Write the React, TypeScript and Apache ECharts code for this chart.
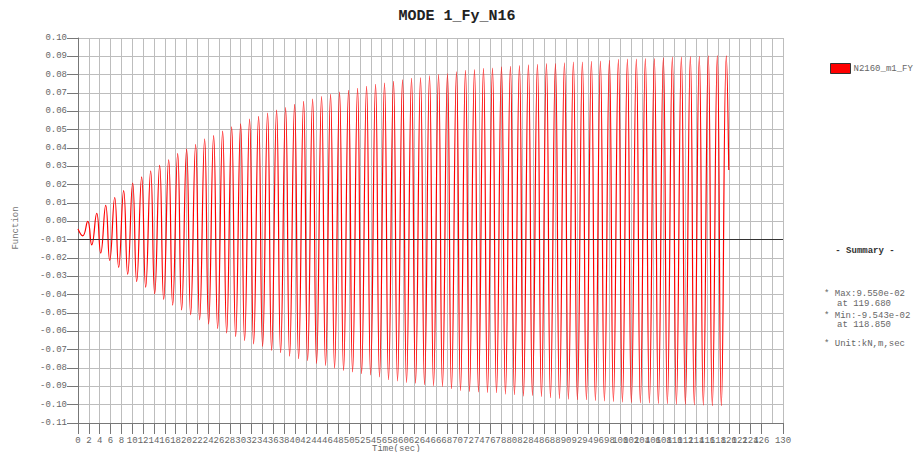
import React, { useEffect, useRef } from "react";
import * as echarts from "echarts";

const SERIES_NAME = "N2160_m1_FY";
const TITLE = "MODE 1_Fy_N16";

const startPoint = [0, -0.0042];
const endPoint = [120.0, 0.028];

const troughTimes = [
  0.87, 2.53, 4.19, 5.85, 7.5, 9.16, 10.82, 12.48, 14.14, 15.8, 17.46, 19.11,
  20.77, 22.43, 24.09, 25.75, 27.41, 29.07, 30.72, 32.38, 34.04, 35.7, 37.36,
  39.02, 40.68, 42.34, 43.99, 45.65, 47.31, 48.97, 50.63, 52.29, 53.95, 55.6,
  57.26, 58.92, 60.58, 62.24, 63.9, 65.56, 67.21, 68.87, 70.53, 72.19, 73.85,
  75.51, 77.17, 78.82, 80.48, 82.14, 83.8, 85.46, 87.12, 88.78, 90.43, 92.09,
  93.75, 95.41, 97.07, 98.73, 100.39, 102.04, 103.7, 105.36, 107.02, 108.68,
  110.34, 112.0, 113.65, 115.31, 116.97, 118.63,
];
const troughValues = [
  -0.0079, -0.0128, -0.0173, -0.0213, -0.0251, -0.0288, -0.0328, -0.0359,
  -0.0395, -0.0426, -0.0457, -0.0483, -0.051, -0.0537, -0.0559, -0.0584,
  -0.0609, -0.0628, -0.065, -0.0668, -0.0682, -0.0704, -0.0716, -0.0735,
  -0.0749, -0.0759, -0.0775, -0.0786, -0.08, -0.0813, -0.0821, -0.0831,
  -0.0837, -0.0849, -0.0864, -0.087, -0.0879, -0.0882, -0.0891, -0.0897,
  -0.0901, -0.0913, -0.0923, -0.0928, -0.093, -0.0933, -0.0935, -0.0942,
  -0.0946, -0.0953, -0.095, -0.0955, -0.0962, -0.0966, -0.097, -0.0973,
  -0.0973, -0.0977, -0.098, -0.0982, -0.0986, -0.0988, -0.099, -0.0991,
  -0.0993, -0.0995, -0.0997, -0.0999, -0.1001, -0.1002, -0.1006, -0.1006,
];
const peakTimes = [
  1.79, 3.45, 5.11, 6.77, 8.42, 10.08, 11.74, 13.4, 15.06, 16.72, 18.38, 20.03,
  21.69, 23.35, 25.01, 26.67, 28.33, 29.99, 31.64, 33.3, 34.96, 36.62, 38.28,
  39.94, 41.6, 43.26, 44.91, 46.57, 48.23, 49.89, 51.55, 53.21, 54.87, 56.52,
  58.18, 59.84, 61.5, 63.16, 64.82, 66.48, 68.13, 69.79, 71.45, 73.11, 74.77,
  76.43, 78.09, 79.74, 81.4, 83.06, 84.72, 86.38, 88.04, 89.7, 91.35, 93.01,
  94.67, 96.33, 97.99, 99.65, 101.31, 102.96, 104.62, 106.28, 107.94, 109.6,
  111.26, 112.92, 114.57, 116.23, 117.89, 119.55,
];
const peakValues = [
  0.0, 0.0043, 0.0087, 0.013, 0.0167, 0.0209, 0.0243, 0.0276, 0.0305, 0.0336,
  0.0369, 0.0394, 0.0419, 0.0449, 0.0467, 0.0492, 0.0516, 0.0532, 0.0558,
  0.0572, 0.0591, 0.0607, 0.0621, 0.0638, 0.0654, 0.0667, 0.0681, 0.0692,
  0.0705, 0.0714, 0.0725, 0.0736, 0.0747, 0.0754, 0.0763, 0.0772, 0.078,
  0.0783, 0.0794, 0.08, 0.0805, 0.0816, 0.0823, 0.0827, 0.0834, 0.0836, 0.0842,
  0.0845, 0.0849, 0.0853, 0.0856, 0.086, 0.086, 0.0865, 0.0869, 0.0869, 0.0872,
  0.0874, 0.0878, 0.0883, 0.0885, 0.0885, 0.0887, 0.0888, 0.0892, 0.0896,
  0.0896, 0.0898, 0.09, 0.0902, 0.0904, 0.0903,
];
const baselineValue = -0.005;

const summaryLines = [
  "* Max:9.550e-02",
  "at 119.680",
  "* Min:-9.543e-02",
  "at 118.850",
  "* Unit:kN,m,sec",
];

const MONO = "'Liberation Mono', 'DejaVu Sans Mono', monospace";

export default function App() {
  const ref = useRef<HTMLDivElement>(null);

  useEffect(() => {
    document.body.style.margin = "0";
    if (!ref.current) return;
    const chart = echarts.init(ref.current, null, { renderer: "svg" });

    const data: number[][] = [startPoint];
    for (let i = 0; i < peakTimes.length; i++) {
      data.push([troughTimes[i], troughValues[i]]);
      data.push([peakTimes[i], peakValues[i]]);
    }
    data.push(endPoint);

    const summaryY = [294, 304, 316, 325, 344];
    const summaryX = [824, 837, 824, 837, 824];

    chart.setOption({
      animation: false,
      backgroundColor: "#ffffff",
      title: {
        text: TITLE,
        left: "center",
        top: 4,
        textStyle: {
          fontFamily: MONO,
          fontWeight: "bold",
          fontSize: 15,
          color: "#222",
        },
      },
      legend: {
        data: [{ name: SERIES_NAME, icon: "rect" }],
        left: 825,
        top: 58,
        itemWidth: 20,
        itemHeight: 10,
        itemGap: 6,
        itemStyle: { borderColor: "#333", borderWidth: 1 },
        textStyle: { fontFamily: MONO, fontSize: 9, color: "#666", padding: [0, 0, 0, -2] },
      },
      grid: { left: 78, right: 131, top: 38, bottom: 29, containLabel: false },
      xAxis: {
        type: "value",
        min: 0,
        max: 130,
        interval: 2,
        axisLine: { show: true, onZero: false, lineStyle: { color: "#777", width: 1 } },
        axisTick: { show: true, length: 11, lineStyle: { color: "#777" } },
        axisLabel: {
          margin: 13,
          fontFamily: MONO,
          fontSize: 9,
          color: "#666",
          hideOverlap: false,
          showMinLabel: true,
          showMaxLabel: true,
        },
        splitLine: { show: true, lineStyle: { color: "#bdbdbd", width: 1 } },
      },
      yAxis: {
        type: "value",
        min: -0.11,
        max: 0.1,
        interval: 0.01,
        axisLine: { show: true, onZero: false, lineStyle: { color: "#777", width: 1 } },
        axisTick: { show: true, length: 11, lineStyle: { color: "#777" } },
        axisLabel: {
          margin: 11,
          fontFamily: MONO,
          fontSize: 9,
          color: "#666",
          formatter: (v: number) => (Math.abs(v) < 1e-9 ? "0.00" : v.toFixed(2)),
        },
        splitLine: { show: true, lineStyle: { color: "#bdbdbd", width: 1 } },
      },
      series: [
        {
          name: SERIES_NAME,
          type: "line",
          data,
          showSymbol: false,
          smooth: 0.5,
          color: "#ff0000",
          lineStyle: { color: "#ff0000", width: 1.2 },
          itemStyle: { color: "#ff0000" },
          markLine: {
            silent: true,
            symbol: ["none", "none"],
            label: { show: false },
            lineStyle: { color: "#333", width: 1, type: "solid" },
            data: [{ yAxis: baselineValue }],
          },
        },
      ],
      graphic: [
        {
          type: "text",
          left: 396 - 24,
          top: 444,
          style: { text: "Time(sec)", font: `9px ${MONO}`, fill: "#666" },
        },
        {
          type: "text",
          x: 16,
          y: 228,
          rotation: Math.PI / 2,
          style: {
            text: "Function",
            font: `9px ${MONO}`,
            fill: "#777",
            textAlign: "center",
            textVerticalAlign: "middle",
          },
        },
        {
          type: "text",
          x: 865,
          y: 251,
          style: {
            text: "- Summary -",
            font: `bold 9px ${MONO}`,
            fill: "#333",
            textAlign: "center",
            textVerticalAlign: "middle",
          },
        },
        ...summaryLines.map((t, i) => ({
          type: "text",
          x: summaryX[i],
          y: summaryY[i],
          style: {
            text: t,
            font: `9px ${MONO}`,
            fill: "#666",
            textAlign: "left",
            textVerticalAlign: "middle",
          },
        })),
      ],
    });

    return () => chart.dispose();
  }, []);

  return <div ref={ref} style={{ width: 914, height: 452 }} />;
}
